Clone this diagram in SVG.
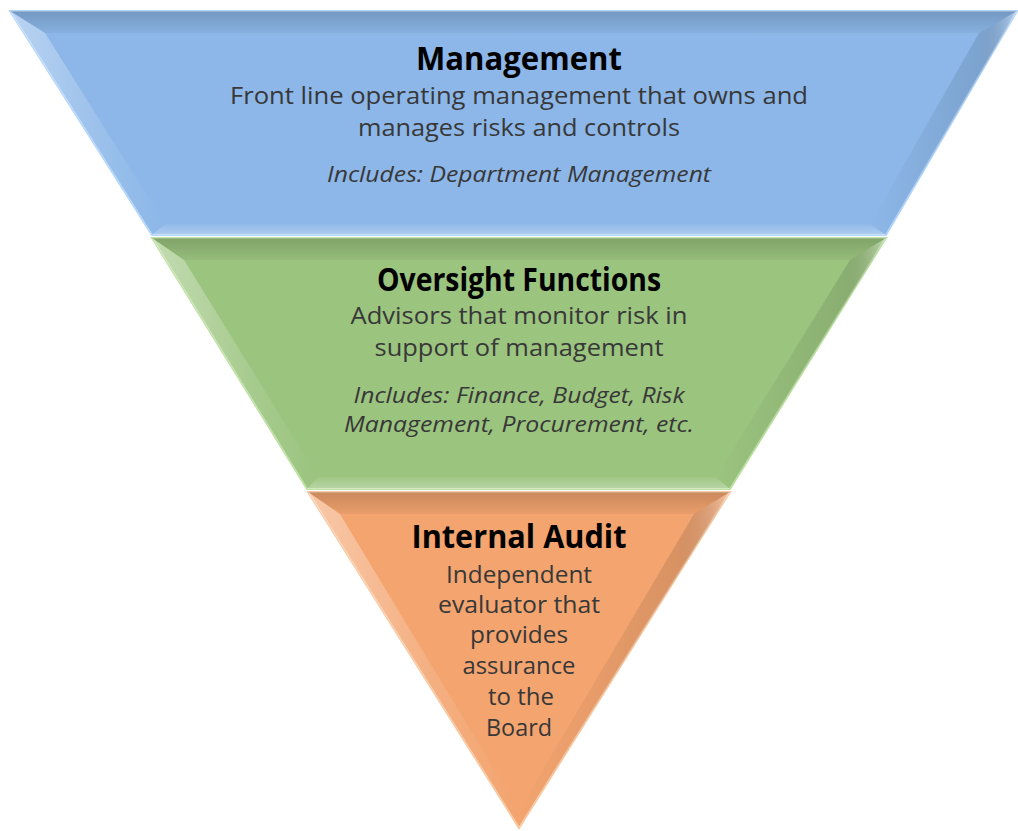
<svg xmlns="http://www.w3.org/2000/svg" width="1018" height="831" viewBox="0 0 1018 831">
<defs>
<linearGradient id="gTop" x1="0" y1="0" x2="0" y2="1"><stop offset="0" stop-color="#000" stop-opacity="0.17"/><stop offset="1" stop-color="#000" stop-opacity="0.04"/></linearGradient>
<linearGradient id="gLeft" x1="0" y1="0" x2="1" y2="0"><stop offset="0" stop-color="#fff" stop-opacity="0.4"/><stop offset="0.6" stop-color="#fff" stop-opacity="0.12"/><stop offset="1" stop-color="#fff" stop-opacity="0"/></linearGradient>
<linearGradient id="gRight" x1="0" y1="0" x2="1" y2="0"><stop offset="0" stop-color="#000" stop-opacity="0"/><stop offset="0.75" stop-color="#000" stop-opacity="0.11"/><stop offset="1" stop-color="#fff" stop-opacity="0.35"/></linearGradient>
<linearGradient id="gBottom" x1="0" y1="0" x2="0" y2="1"><stop offset="0" stop-color="#fff" stop-opacity="0.05"/><stop offset="1" stop-color="#fff" stop-opacity="0.3"/></linearGradient>
</defs>
<style>
.title{font-family:"Open Sans","Liberation Sans",sans-serif;font-weight:bold;font-size:33px;fill:#000;text-anchor:middle}
.body{font-family:"Open Sans","Liberation Sans",sans-serif;font-size:24px;fill:#383838;text-anchor:middle}
.inc{font-family:"Open Sans","Liberation Sans",sans-serif;font-style:italic;font-size:22px;fill:#383838;text-anchor:middle}
.top{fill:url(#gTop)}
.left{fill:url(#gLeft)}
.right{fill:url(#gRight)}
.bottom{fill:url(#gBottom)}
</style>
<g id="management">
<polygon points="10,11 1017,11 886,235 152,235" fill="#8cb7e8" stroke="#b3d6fb" stroke-width="2"/>
<polygon class="top" points="10,11 1017,11 979,33 45,33"/>
<polygon class="left" points="10,11 45,33 165,224 152,235"/>
<polygon class="right" points="979,33 1017,11 886,235 870,224"/>
<polygon class="bottom" points="165,224 870,224 886,235 152,235"/>
<text class="title" x="519" y="70" textLength="206" lengthAdjust="spacingAndGlyphs">Management</text>
<text class="body" x="519" y="104" textLength="578" lengthAdjust="spacingAndGlyphs">Front line operating management that owns and</text>
<text class="body" x="519" y="136" textLength="322" lengthAdjust="spacingAndGlyphs">manages risks and controls</text>
<text class="inc" x="519" y="182" textLength="384" lengthAdjust="spacingAndGlyphs">Includes: Department Management</text>
</g>
<g id="oversight">
<polygon points="152,238 886,238 730,489 307,489" fill="#9bc47f" stroke="#bde0a3" stroke-width="2"/>
<polygon class="top" points="152,238 886,238 850,260 184,260"/>
<polygon class="left" points="152,238 184,260 318,477 307,489"/>
<polygon class="right" points="850,260 886,238 730,489 716,477"/>
<polygon class="bottom" points="318,477 716,477 730,489 307,489"/>
<text class="title" x="519" y="291" textLength="284" lengthAdjust="spacingAndGlyphs">Oversight Functions</text>
<text class="body" x="519" y="324" textLength="337" lengthAdjust="spacingAndGlyphs">Advisors that monitor risk in</text>
<text class="body" x="519" y="356" textLength="289" lengthAdjust="spacingAndGlyphs">support of management</text>
<text class="inc" x="519" y="403" textLength="331" lengthAdjust="spacingAndGlyphs">Includes: Finance, Budget, Risk</text>
<text class="inc" x="519" y="432" textLength="350" lengthAdjust="spacingAndGlyphs">Management, Procurement, etc.</text>
</g>
<g id="internal-audit">
<polygon points="308,492 730,492 519,828" fill="#f3a46f" stroke="#f8c9a2" stroke-width="2"/>
<polygon class="top" points="308,492 730,492 694,514 340,514"/>
<polygon class="left" points="308,492 340,514 519,810 519,828"/>
<polygon class="right" points="694,514 730,492 519,828 519,810"/>
<text class="title" x="519" y="548" textLength="215" lengthAdjust="spacingAndGlyphs">Internal Audit</text>
<text class="body" x="519" y="583" textLength="146" lengthAdjust="spacingAndGlyphs">Independent</text>
<text class="body" x="519" y="613" textLength="162" lengthAdjust="spacingAndGlyphs">evaluator that</text>
<text class="body" x="519" y="643" textLength="98" lengthAdjust="spacingAndGlyphs">provides</text>
<text class="body" x="519" y="674" textLength="113" lengthAdjust="spacingAndGlyphs">assurance</text>
<text class="body" x="521" y="705" textLength="66" lengthAdjust="spacingAndGlyphs">to the</text>
<text class="body" x="519" y="736" textLength="66" lengthAdjust="spacingAndGlyphs">Board</text>
</g>
<g id="connectors"/>
</svg>
